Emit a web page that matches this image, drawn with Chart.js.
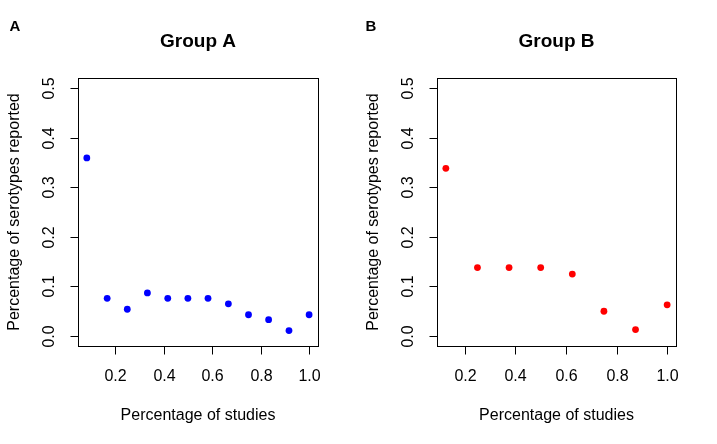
<!DOCTYPE html>
<html>
<head>
<meta charset="utf-8">
<script src="https://cdn.jsdelivr.net/npm/chart.js@4/dist/chart.umd.min.js"></script>
<style>
    body { margin: 0; background: #fff; }
    .panel { position: absolute; top: 0; width: 358px; height: 444px; }
</style>
</head>
<body>
<div class="panel" style="left:0"><canvas id="chartA"></canvas></div>
<div class="panel" style="left:359px"><canvas id="chartB"></canvas></div>
<script>
// Group A: 12 study fractions
const groupAX = [0.083, 0.167, 0.25, 0.333, 0.417, 0.5, 0.583, 0.667, 0.75, 0.833, 0.917, 1.0];
const groupAY = [0.359, 0.076, 0.054, 0.087, 0.076, 0.076, 0.076, 0.065, 0.043, 0.033, 0.011, 0.043];
// Group B: 8 study fractions
const groupBX = [0.125, 0.25, 0.375, 0.5, 0.625, 0.75, 0.875, 1.0];
const groupBY = [0.338, 0.138, 0.138, 0.138, 0.125, 0.05, 0.013, 0.063];

const xTicks = [0.2, 0.4, 0.6, 0.8, 1.0];
const yTicks = [0.0, 0.1, 0.2, 0.3, 0.4, 0.5];
const xTitle = 'Percentage of studies';
const yTitle = 'Percentage of serotypes reported';

const FONT = '"Liberation Sans", Arial, sans-serif';

// draws the R style box, axes and labels from the chart scales
const baseGraphics = {
    id: 'baseGraphics',
    afterDraw(chart, args, opts) {
        const ctx = chart.ctx;
        const area = chart.chartArea;
        const xs = chart.scales.x;
        const ys = chart.scales.y;
        ctx.save();
        ctx.strokeStyle = '#000';
        ctx.fillStyle = '#000';
        ctx.lineWidth = 1;
        ctx.strokeRect(Math.round(area.left) + 0.5, Math.round(area.top) + 0.5,
            Math.round(area.right - area.left), Math.round(area.bottom - area.top));

        ctx.font = '16px ' + FONT;
        ctx.textAlign = 'center';
        ctx.textBaseline = 'middle';
        const bottom = Math.round(area.bottom) + 0.5;
        xTicks.forEach(v => {
            const px = Math.round(xs.getPixelForValue(v)) + 0.5;
            ctx.beginPath();
            ctx.moveTo(px, bottom);
            ctx.lineTo(px, bottom + 8);
            ctx.stroke();
            ctx.fillText(v.toFixed(1), px, bottom + 30);
        });

        const left = Math.round(area.left) + 0.5;
        yTicks.forEach(v => {
            const py = Math.round(ys.getPixelForValue(v)) + 0.5;
            ctx.beginPath();
            ctx.moveTo(left - 8, py);
            ctx.lineTo(left, py);
            ctx.stroke();
            ctx.save();
            ctx.translate(left - 29, py);
            ctx.rotate(-Math.PI / 2);
            ctx.fillText(v.toFixed(1), 0, 0);
            ctx.restore();
        });

        const midX = (area.left + area.right) / 2;
        const midY = (area.top + area.bottom) / 2;
        ctx.fillText(xTitle, midX, bottom + 69);
        ctx.save();
        ctx.translate(left - 64, midY);
        ctx.rotate(-Math.PI / 2);
        ctx.fillText(yTitle, 0, 0);
        ctx.restore();

        ctx.font = 'bold 19px ' + FONT;
        ctx.fillText(opts.title, midX, 42);
        ctx.font = 'bold 15px ' + FONT;
        ctx.fillText(opts.letter, opts.letterX, 27);
        ctx.restore();
    }
};

function makeChart(id, xs, ys, color, xMin, xMax, title, letter, letterX, padRight) {
    const points = xs.map((x, i) => ({ x: x, y: ys[i] }));
    return new Chart(document.getElementById(id), {
        type: 'scatter',
        data: {
            datasets: [{
                data: points,
                backgroundColor: color,
                borderWidth: 0,
                pointRadius: 3.4,
                pointHoverRadius: 3.4
            }]
        },
        options: {
            responsive: true,
            maintainAspectRatio: false,
            animation: false,
            events: [],
            layout: { padding: { left: 78, top: 78, right: padRight, bottom: 98 } },
            scales: {
                x: { type: 'linear', display: false, min: xMin, max: xMax },
                y: { type: 'linear', display: false, min: -0.02, max: 0.52 }
            },
            plugins: {
                legend: { display: false },
                tooltip: { enabled: false },
                baseGraphics: { title: title, letter: letter, letterX: letterX }
            }
        },
        plugins: [baseGraphics]
    });
}

makeChart('chartA', groupAX, groupAY, '#0000ff', 0.0467, 1.0367, 'Group A', 'A', 15, 40);
makeChart('chartB', groupBX, groupBY, '#ff0000', 0.09, 1.035, 'Group B', 'B', 12, 41);
</script>
</body>
</html>
